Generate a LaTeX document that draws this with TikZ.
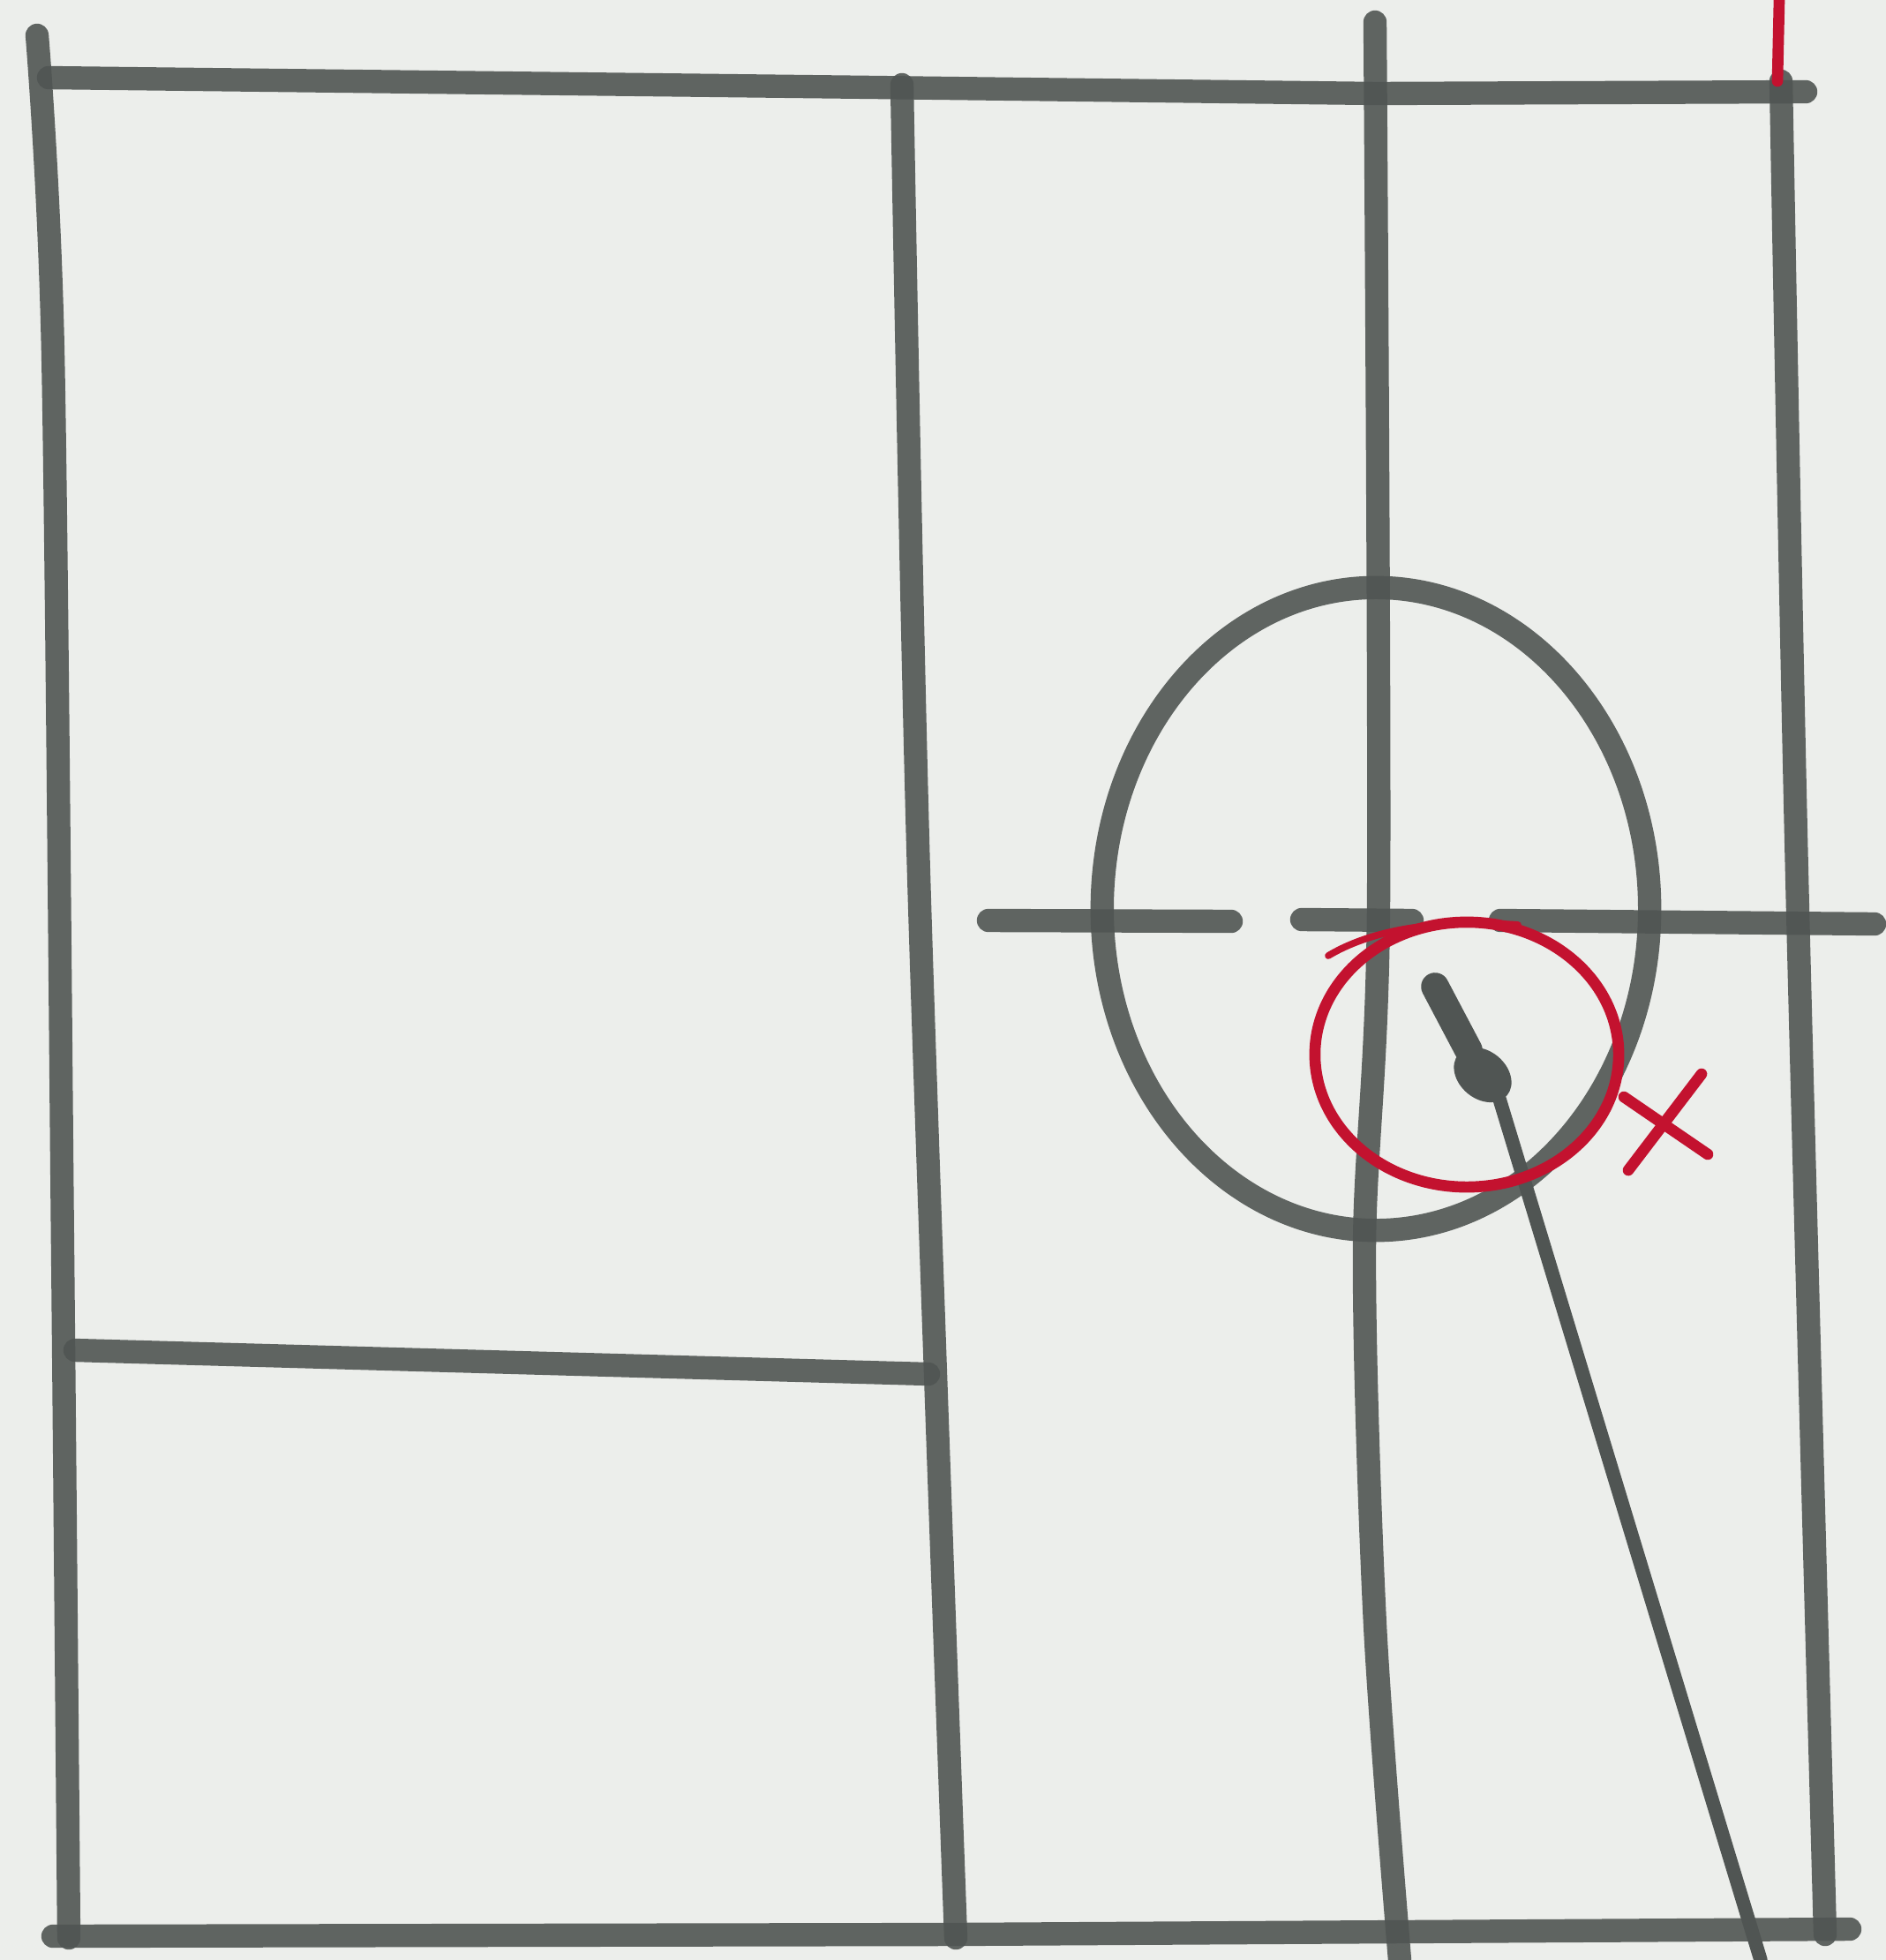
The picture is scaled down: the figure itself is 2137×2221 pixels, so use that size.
\documentclass[tikz,border=0pt]{standalone}
\usepackage{tikz}
\definecolor{paper}{HTML}{ECEEEB}
\definecolor{graphite}{HTML}{505553}
\definecolor{crimson}{HTML}{C3122F}
\begin{document}
\begin{tikzpicture}[x=0.01cm, y=-0.01cm,
    pencil/.style={draw=graphite, line width=7.5pt, line cap=round, opacity=.9},
    redpen/.style={draw=crimson, line width=3.6pt, line cap=round},
    stem/.style={draw=graphite, line width=4.4pt, line cap=round}]
  \fill[paper] (0,0) rectangle (2137,2221);
  \useasboundingbox (0,0) rectangle (2137,2221);
  % grid corners
  \coordinate (TL) at (42,40);
  \coordinate (TR) at (2046,104);
  \coordinate (BL) at (78,2196);
  \coordinate (BR) at (2096,2186);
  \coordinate (C) at (1559,1030);
  \coordinate (R) at (1662,1195);
  \coordinate (H) at (1626,1118);
  \coordinate (N) at (1664,1190);
  \coordinate (K) at (1698,1242);
  \coordinate (S) at (1995,2221);
  % outer frame and dividers
  \draw[pencil] (55,88) -- (990,99) -- (1560,106) -- (TR);
  \draw[pencil] plot[smooth] coordinates {(TL) (60,400) (71,1416) (BL)};
  \draw[pencil] (60,2194) -- (1080,2192) -- (BR);
  \draw[pencil] plot[smooth] coordinates {(1022,96) (1041,991) (1083,2196)};
  \draw[pencil] plot[smooth] coordinates {(1558,25) (1562,1027) (1546,1416) (1558,1841) (1586,2221)};
  \draw[pencil] plot[smooth] coordinates {(2018,92) (2036,991) (2068,2192)};
  \draw[pencil] (85,1530) -- (1052,1557);
  \draw[pencil] (1120,1043) -- (1395,1044);
  \draw[pencil] (1475,1042) -- (1600,1043);
  \draw[pencil] (1700,1043) -- (2124,1047);
  % head
  \draw[pencil] (C) ellipse [x radius=3.10cm, y radius=3.64cm];
  % figure
  \draw[graphite, line width=9pt, line cap=round] (H) -- (N);
  \fill[graphite, rotate around={-40:(1680,1218)}] (1680,1218) ellipse [x radius=0.36cm, y radius=0.27cm];
  \draw[stem] (K) -- (S);
  % red marks
  \draw[redpen] (R) ellipse [x radius=1.72cm, y radius=1.50cm];
  \draw[redpen, line width=2.2pt] (1505,1083) .. controls (1560,1050) and (1640,1042) .. (1720,1048);
  \draw[redpen] (2016,0) -- (2014,92);
  \draw[redpen, line width=3.6pt] (1840,1243) -- (1935,1308) (1928,1217) -- (1845,1326);
\end{tikzpicture}
\end{document}
